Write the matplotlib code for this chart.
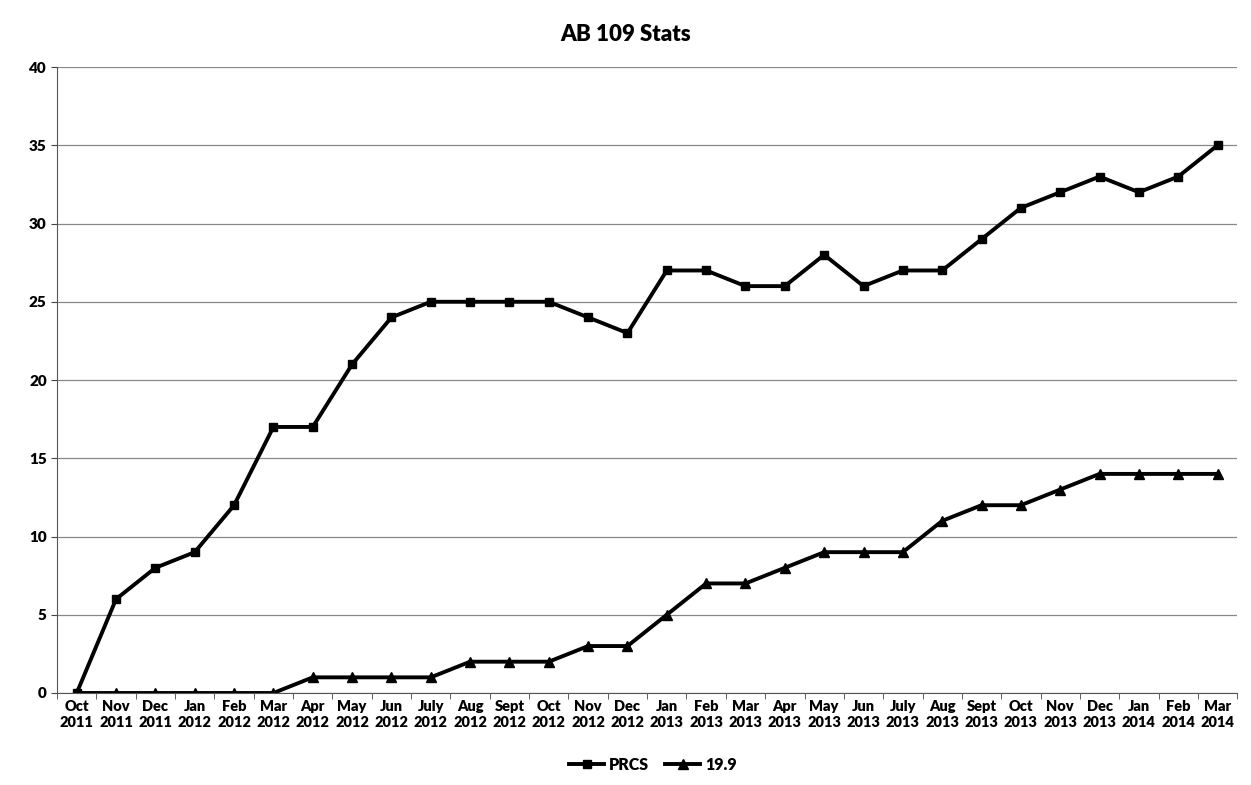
import numpy as np
import matplotlib.pyplot as plt

plt.rcParams['font.family'] = ['Lato', 'DejaVu Sans']
plt.rcParams['font.weight'] = 'heavy'

months = ['Oct\n2011', 'Nov\n2011', 'Dec\n2011', 'Jan\n2012', 'Feb\n2012', 'Mar\n2012',
          'Apr\n2012', 'May\n2012', 'Jun\n2012', 'July\n2012', 'Aug\n2012', 'Sept\n2012',
          'Oct\n2012', 'Nov\n2012', 'Dec\n2012', 'Jan\n2013', 'Feb\n2013', 'Mar\n2013',
          'Apr\n2013', 'May\n2013', 'Jun\n2013', 'July\n2013', 'Aug\n2013', 'Sept\n2013',
          'Oct\n2013', 'Nov\n2013', 'Dec\n2013', 'Jan\n2014', 'Feb\n2014', 'Mar\n2014']

prcs = [0, 6, 8, 9, 12, 17, 17, 21, 24, 25, 25, 25, 25, 24, 23,
        27, 27, 26, 26, 28, 26, 27, 27, 29, 31, 32, 33, 32, 33, 35]
s199 = [0, 0, 0, 0, 0, 0, 1, 1, 1, 1, 2, 2, 2, 3, 3,
        5, 7, 7, 8, 9, 9, 9, 11, 12, 12, 13, 14, 14, 14, 14]

x = np.arange(len(months))

fig = plt.figure(figsize=(12.51, 7.85), dpi=100)
ax = fig.add_axes([0.0456, 0.1172, 0.9434, 0.7974])

ax.plot(x, prcs, color='black', lw=2.8, marker='s', ms=6, label='PRCS')
ax.plot(x, s199, color='black', lw=2.8, marker='^', ms=7, label='19.9')

ax.set_xlim(-0.33, 29.38)
ax.set_ylim(0, 40)
ax.set_yticks(range(0, 41, 5))
ax.set_xticks(x)
ax.set_xticklabels(months, fontsize=10.5, fontweight='heavy', linespacing=1.25)
ax.set_xticks(np.arange(-0.5, 30, 1), minor=True)
ax.tick_params(axis='x', which='major', length=0, pad=5)
ax.tick_params(axis='x', which='minor', length=4, color='#444444')
ax.tick_params(axis='y', length=4, labelsize=11, color='#444444')
for lab in ax.get_yticklabels():
    lab.set_fontweight('heavy')

ax.grid(axis='y', color='#888888', lw=0.9)
ax.set_axisbelow(True)
for s in ['top', 'right']:
    ax.spines[s].set_visible(False)
ax.spines['left'].set_color('#555555')
ax.spines['bottom'].set_color('#555555')

fig.suptitle('AB 109 Stats', y=0.97, fontsize=16, fontweight='heavy')
ax.legend(loc='center', bbox_to_anchor=(0.505, -0.115), ncol=2, frameon=False,
          prop={'size': 11.5, 'weight': 'heavy'}, handlelength=2.2,
          columnspacing=1.0, handletextpad=0.3)

fig.savefig('out.png', dpi=100)
